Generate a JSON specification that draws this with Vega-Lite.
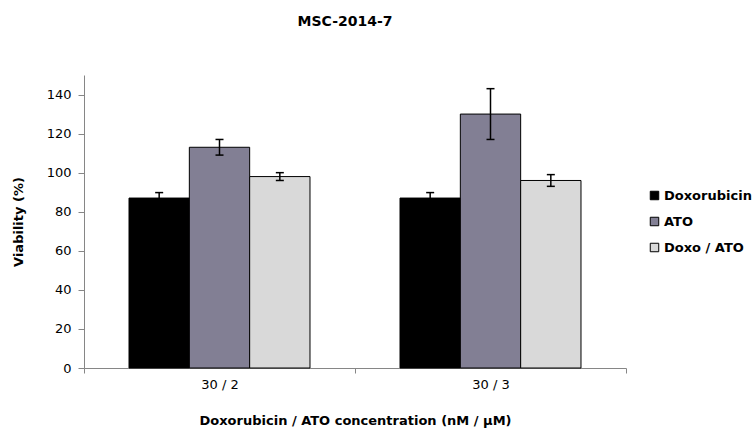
{
  "$schema": "https://vega.github.io/schema/vega-lite/v6.json",
  "width": 542,
  "height": 293,
  "autosize": {"type": "none"},
  "padding": {"left": 84, "top": 75, "right": 128, "bottom": 61},
  "background": "white",
  "config": {"view": {"stroke": null}, "font": "DejaVu Sans"},
  "title": {"text": "MSC-2014-7", "font": "DejaVu Sans", "fontSize": 14, "fontWeight": "bold", "color": "black", "anchor": "middle", "frame": "group", "offset": 46, "dx": -10},
  "data": {"values": [
    {"conc": "30 / 2", "treatment": "Doxorubicin", "value": 87, "lo": 84.3, "hi": 89.8},
    {"conc": "30 / 2", "treatment": "ATO", "value": 113, "lo": 109, "hi": 117},
    {"conc": "30 / 2", "treatment": "Doxo / ATO", "value": 98, "lo": 96, "hi": 100},
    {"conc": "30 / 3", "treatment": "Doxorubicin", "value": 87, "lo": 84.3, "hi": 89.8},
    {"conc": "30 / 3", "treatment": "ATO", "value": 130, "lo": 117, "hi": 143},
    {"conc": "30 / 3", "treatment": "Doxo / ATO", "value": 96, "lo": 93, "hi": 99}
  ]},
  "encoding": {
    "x": {
      "field": "conc", "type": "nominal", "sort": ["30 / 2", "30 / 3"],
      "scale": {"paddingInner": 0, "paddingOuter": 0},
      "axis": {
        "title": "Doxorubicin / ATO concentration (nM / µM)",
        "labelAngle": 0, "tickBand": "extent",
        "domainColor": "#868686", "tickColor": "#868686", "tickSize": 5,
        "labelFont": "DejaVu Sans", "labelFontSize": 13, "labelColor": "black", "labelPadding": 5,
        "titleFont": "DejaVu Sans", "titleFontSize": 13, "titleFontWeight": "bold", "titleColor": "black", "titlePadding": 23
      }
    },
    "xOffset": {
      "field": "treatment", "type": "nominal", "sort": ["Doxorubicin", "ATO", "Doxo / ATO"],
      "scale": {"paddingInner": 0, "paddingOuter": 0.746}
    }
  },
  "layer": [
    {
      "mark": {"type": "bar", "stroke": "black", "strokeWidth": 1},
      "encoding": {
        "y": {
          "field": "value", "type": "quantitative",
          "scale": {"domain": [0, 150], "nice": false},
          "axis": {
            "title": "Viability (%)", "values": [0, 20, 40, 60, 80, 100, 120, 140], "grid": false,
            "domainColor": "#868686", "tickColor": "#868686", "tickSize": 6,
            "labelFont": "DejaVu Sans", "labelFontSize": 13, "labelColor": "black", "labelPadding": 7,
            "titleFont": "DejaVu Sans", "titleFontSize": 13, "titleFontWeight": "bold", "titleColor": "black", "titlePadding": 21
          }
        },
        "color": {
          "field": "treatment", "type": "nominal", "sort": ["Doxorubicin", "ATO", "Doxo / ATO"],
          "scale": {"domain": ["Doxorubicin", "ATO", "Doxo / ATO"], "range": ["#000000", "#827F94", "#D9D9D9"]},
          "legend": {
            "title": null, "orient": "none", "legendX": 564, "legendY": 114,
            "symbolType": "square", "symbolSize": 72, "symbolStrokeColor": "black", "symbolStrokeWidth": 1, "symbolOpacity": 1,
            "labelFont": "DejaVu Sans", "labelFontSize": 13, "labelFontWeight": "bold", "labelColor": "black",
            "labelOffset": 3, "rowPadding": 12
          }
        }
      }
    },
    {
      "mark": {"type": "rule", "color": "black", "strokeWidth": 1.5},
      "encoding": {
        "y": {"field": "lo", "type": "quantitative", "title": "Viability (%)"},
        "y2": {"field": "hi"}
      }
    },
    {
      "mark": {"type": "tick", "color": "black", "size": 8, "thickness": 1.5, "opacity": 1},
      "encoding": {"y": {"field": "lo", "type": "quantitative", "title": "Viability (%)"}}
    },
    {
      "mark": {"type": "tick", "color": "black", "size": 8, "thickness": 1.5, "opacity": 1},
      "encoding": {"y": {"field": "hi", "type": "quantitative", "title": "Viability (%)"}}
    }
  ]
}
